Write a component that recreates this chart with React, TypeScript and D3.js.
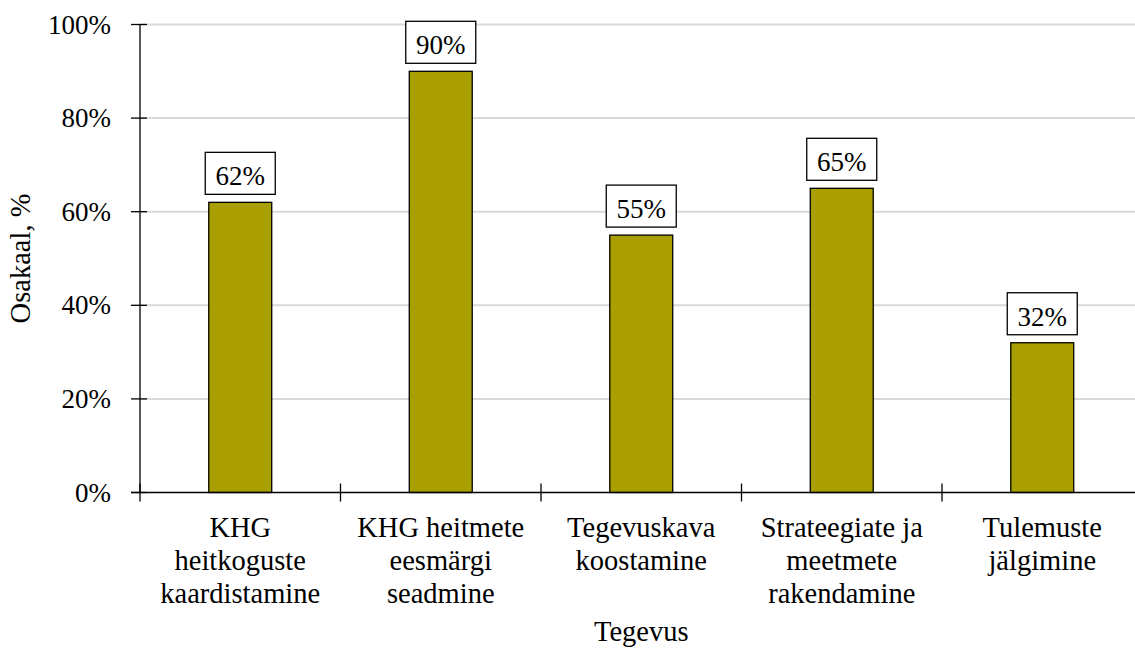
import React from "react";
import * as d3 from "d3";

const categories: string[][] = [
  ["KHG", "heitkoguste", "kaardistamine"],
  ["KHG heitmete", "eesmärgi", "seadmine"],
  ["Tegevuskava", "koostamine"],
  ["Strateegiate ja", "meetmete", "rakendamine"],
  ["Tulemuste", "jälgimine"],
];
const values: number[] = [62, 90, 55, 65, 32];
const yTicks: number[] = [0, 20, 40, 60, 80, 100];
const yTitle = "Osakaal, %";
const xTitle = "Tegevus";

const W = 1135;
const H = 651;
const left = 140;
const right = 1142.5;
const top = 24.5;
const bottom = 492.5;
const FONT = '"Liberation Serif", serif';
const FS = 27;
const FS_CAT = 28.5;

export default function App() {
  const x = d3
    .scaleBand<number>()
    .domain(values.map((_, i) => i))
    .range([left, right])
    .paddingInner(0)
    .paddingOuter(0);
  const y = d3.scaleLinear().domain([0, 100]).range([bottom, top]);
  const bw = x.bandwidth();
  const barW = bw * 0.314;
  const boxW = 70;
  const boxH = 42;
  const ts: React.CSSProperties = { fontFamily: FONT, fontSize: FS };
  const tc: React.CSSProperties = { fontFamily: FONT, fontSize: FS_CAT };

  return (
    <svg
      width={W}
      height={H}
      style={{ position: "absolute", left: 0, top: 0, background: "#fff", fontFamily: FONT }}
    >
      {yTicks.map((t) =>
        t === 0 ? null : (
          <line key={"g" + t} x1={left} x2={right} y1={y(t)} y2={y(t)} stroke="#d9d9d9" strokeWidth={2} />
        )
      )}
      {values.map((v, i) => {
        const cx = x(i)! + bw / 2;
        return (
          <g key={"b" + i}>
            <rect
              x={cx - barW / 2}
              y={y(v)}
              width={barW}
              height={bottom - y(v)}
              fill="#a99f00"
              stroke="#000"
              strokeWidth={1.3}
            />
            <rect
              x={cx - boxW / 2}
              y={y(v) - 8 - boxH}
              width={boxW}
              height={boxH}
              fill="#fff"
              stroke="#000"
              strokeWidth={1.3}
            />
            <text x={cx} y={y(v) - 8 - 9} textAnchor="middle" style={ts} fill="#000">
              {v}%
            </text>
          </g>
        );
      })}
      <line x1={left} x2={left} y1={top} y2={bottom} stroke="#000" strokeWidth={1.3} />
      <line x1={left - 9} x2={right} y1={bottom} y2={bottom} stroke="#000" strokeWidth={1.3} />
      {yTicks.map((t) => (
        <g key={"t" + t}>
          <line x1={left - 9} x2={left + 7} y1={y(t)} y2={y(t)} stroke="#000" strokeWidth={1.3} />
          <text x={111} y={y(t) + 9} textAnchor="end" style={ts} fill="#000">
            {t}%
          </text>
        </g>
      ))}
      {values.map((_, i) => (
        <line
          key={"xt" + i}
          x1={x(i)!}
          x2={x(i)!}
          y1={bottom - 9}
          y2={bottom + 9}
          stroke="#000"
          strokeWidth={1.3}
        />
      ))}
      {categories.map((lines, i) => {
        const cx = x(i)! + bw / 2;
        return (
          <text key={"c" + i} textAnchor="middle" style={tc} fill="#000">
            {lines.map((l, j) => (
              <tspan key={j} x={cx} y={537 + j * 33}>
                {l}
              </tspan>
            ))}
          </text>
        );
      })}
      <text x={(left + right) / 2} y={641} textAnchor="middle" style={tc} fill="#000">
        {xTitle}
      </text>
      <text
        transform={`translate(30, ${(top + bottom) / 2}) rotate(-90)`}
        textAnchor="middle"
        style={tc}
        fill="#000"
      >
        {yTitle}
      </text>
    </svg>
  );
}
